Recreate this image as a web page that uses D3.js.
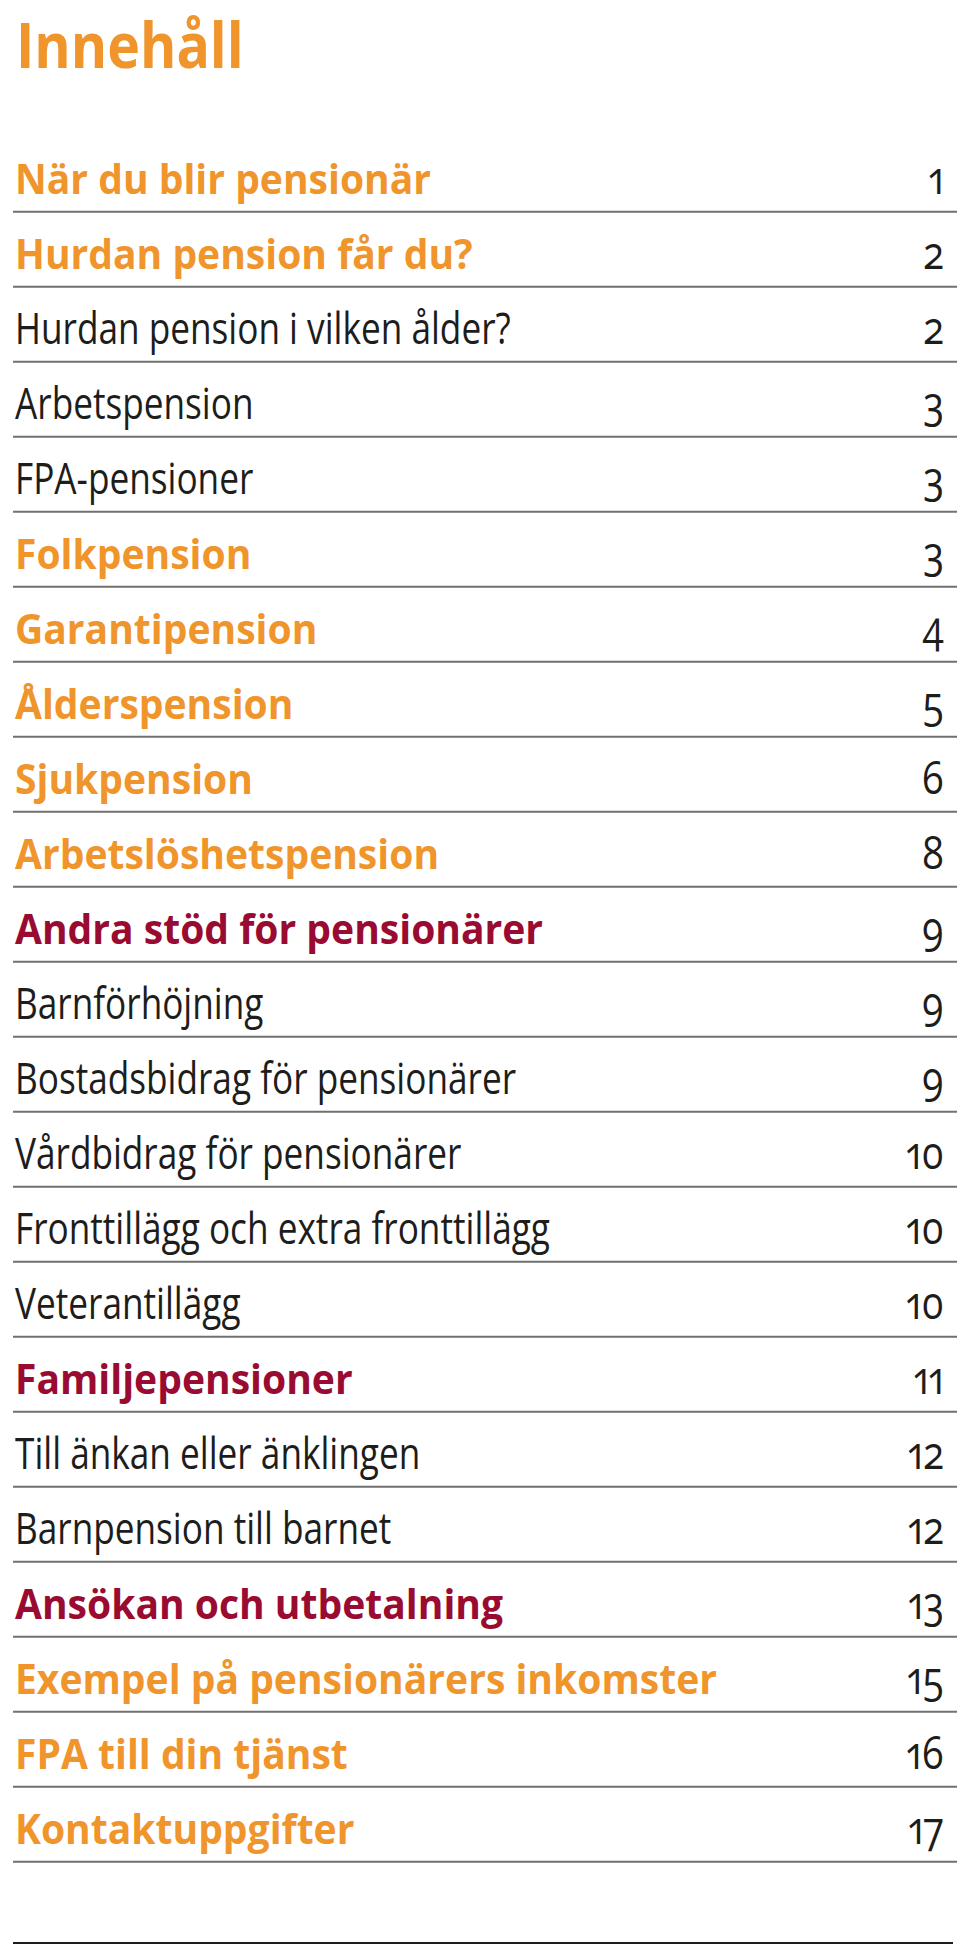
<!DOCTYPE html>
<html>
<head>
<meta charset="utf-8">
<script src="https://cdn.jsdelivr.net/npm/d3@7"></script>
<style>
  html, body { margin: 0; padding: 0; background: #fff; }
  svg { display: block; }
</style>
</head>
<body>
<div id="chart"></div>
<script>
// ---- data ----
const title = "Innehåll";
const labels = [
  "När du blir pensionär",
  "Hurdan pension får du?",
  "Hurdan pension i vilken ålder?",
  "Arbetspension",
  "FPA-pensioner",
  "Folkpension",
  "Garantipension",
  "Ålderspension",
  "Sjukpension",
  "Arbetslöshetspension",
  "Andra stöd för pensionärer",
  "Barnförhöjning",
  "Bostadsbidrag för pensionärer",
  "Vårdbidrag för pensionärer",
  "Fronttillägg och extra fronttillägg",
  "Veterantillägg",
  "Familjepensioner",
  "Till änkan eller änklingen",
  "Barnpension till barnet",
  "Ansökan och utbetalning",
  "Exempel på pensionärers inkomster",
  "FPA till din tjänst",
  "Kontaktuppgifter"
];
const pages = [1, 2, 2, 3, 3, 3, 4, 5, 6, 8, 9, 9, 9, 10, 10, 10, 11, 12, 12, 13, 15, 16, 17];
const kinds = ["main", "main", "sub", "sub", "sub", "main", "main", "main", "main", "main",
               "section", "sub", "sub", "sub", "sub", "sub", "section", "sub", "sub", "section",
               "main", "main", "main"];

// ---- styles ----
const W = 960, H = 1951;
const left = 13, right = 957;
const styles = {
  main:    { fill: "#ef952c", weight: 700, size: 42, sx: 0.93 },
  section: { fill: "#990b31", weight: 700, size: 42, sx: 0.93 },
  sub:     { fill: "#1d1d1b", weight: 400, size: 44, sx: 0.8 }
};

const svg = d3.select("#chart").append("svg")
  .attr("width", W).attr("height", H);

const idx = d3.range(labels.length);
const y = d3.scaleBand().domain(idx).range([136.7, 136.7 + 75 * labels.length]).padding(0);

// title
svg.append("text")
  .attr("transform", `translate(${left + 3},67.5) scale(0.88,1)`)
  .attr("font-family", "'Open Sans', sans-serif")
  .attr("font-weight", 700)
  .attr("font-size", 63)
  .attr("fill", "#ef952c")
  .text(title);

const rows = svg.append("g").selectAll("g.row").data(idx).join("g").attr("class", "row");

rows.append("line")
  .attr("x1", left).attr("x2", right)
  .attr("y1", d => y(d) + y.bandwidth())
  .attr("y2", d => y(d) + y.bandwidth())
  .attr("stroke", "#707070").attr("stroke-width", 2);

rows.append("text")
  .attr("transform", d => `translate(${left + 2},${y(d) + y.bandwidth() - 18}) scale(${styles[kinds[d]].sx},1)`)
  .attr("font-family", "'Open Sans', sans-serif")
  .attr("font-weight", d => styles[kinds[d]].weight)
  .attr("font-size", d => styles[kinds[d]].size)
  .attr("fill", d => styles[kinds[d]].fill)
  .text(d => labels[d]);

rows.append("text")
  .attr("transform", d => `translate(944,${y(d) + y.bandwidth() - 18}) scale(0.84,1)`)
  .attr("text-anchor", "end")
  .attr("font-family", "'Open Sans', sans-serif")
  .attr("font-weight", 400)
  .attr("font-size", 46)
  .style("font-variant-numeric", "oldstyle-nums proportional-nums")
  .attr("fill", "#1d1d1b")
  .text(d => pages[d]);

// bottom rule
svg.append("line")
  .attr("x1", left).attr("x2", 953)
  .attr("y1", 1943).attr("y2", 1943)
  .attr("stroke", "#1d1d1b").attr("stroke-width", 2);
</script>
</body>
</html>
